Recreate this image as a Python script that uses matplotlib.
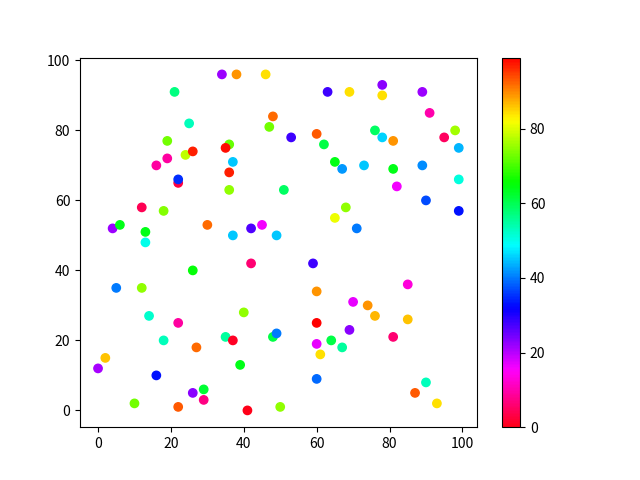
import numpy as np
import matplotlib
matplotlib.use('Agg')
import matplotlib.pyplot as plt

plt.rcParams['font.family'] = ['Noto Sans CJK SC', 'DejaVu Sans']

# x, y, colour value for every point
x = [0, 2, 4, 5, 6, 10, 12, 12, 13, 13, 14, 16, 16, 18, 18, 19, 19, 21,
     22, 22, 22, 22, 24, 25, 26, 26, 26, 27, 29, 29, 30, 34, 36, 35, 35,
     36, 36, 37, 37, 37, 38, 39, 40, 41, 42, 42, 45, 46, 47, 48, 48, 49,
     49, 50, 51, 53, 59, 60, 60, 60, 60, 60, 61, 62, 63, 64, 65, 65, 67,
     67, 68, 69, 69, 70, 71, 73, 74, 76, 76, 78, 78, 78, 81, 81, 81, 82,
     85, 85, 87, 89, 89, 90, 90, 91, 93, 95, 98, 99, 99, 99]
y = [12, 15, 52, 35, 53, 2, 58, 35, 51, 48, 27, 10, 70, 57, 20, 77, 72, 91,
     65, 66, 25, 1, 73, 82, 74, 40, 5, 18, 6, 3, 53, 96, 76, 75, 21,
     68, 63, 71, 50, 20, 96, 13, 28, 0, 42, 52, 53, 96, 81, 84, 21, 22,
     50, 1, 63, 78, 42, 79, 34, 25, 19, 9, 16, 76, 91, 20, 71, 55, 69,
     18, 58, 91, 23, 31, 52, 70, 30, 80, 27, 78, 93, 90, 77, 69, 21, 64,
     36, 26, 5, 91, 70, 60, 8, 85, 2, 78, 80, 75, 66, 57]
c = [21, 86, 22, 40, 64, 73, 4, 75, 64, 50, 52, 33, 9, 74, 53, 73, 9, 57,
     3, 35, 9, 93, 78, 53, 97, 65, 23, 92, 62, 7, 92, 22, 72, 98, 55,
     97, 75, 45, 45, 1, 89, 64, 75, 0, 6, 27, 16, 84, 73, 92, 61, 40,
     45, 75, 59, 28, 28, 93, 89, 99, 17, 39, 84, 61, 28, 61, 64, 81, 42,
     55, 75, 84, 23, 17, 40, 45, 89, 59, 87, 46, 23, 84, 89, 64, 6, 16,
     13, 86, 93, 22, 41, 37, 53, 10, 84, 5, 76, 44, 51, 33]

fig = plt.figure(figsize=(6.4, 4.8), dpi=100)
plt.scatter(x, y, c=c, cmap='hsv_r')
plt.colorbar()
plt.savefig('out.png')
